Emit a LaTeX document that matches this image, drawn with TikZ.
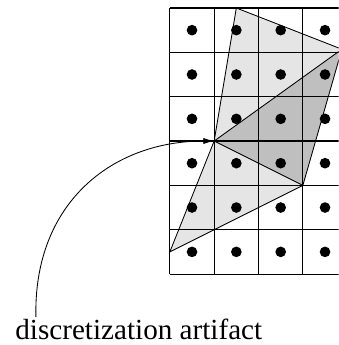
\documentclass[tikz,border=0pt]{standalone}
\usepackage{fontspec}
\setmainfont{Liberation Serif}
\usetikzlibrary{arrows.meta}

\begin{document}
\begin{tikzpicture}[
  lightface/.style={fill=gray!20},
  darkface/.style={fill=gray!50},
  edge/.style={line width=0.55pt, line join=round},
  cellline/.style={line width=0.7pt},
  pixdot/.style={fill=black}
]
\def\dotrad{0.12}

\useasboundingbox (-3.83,-1.6) rectangle (3.806,6.18);
\clip (-3.83,-1.6) rectangle (3.806,6.18);

% mesh vertices
\coordinate (A) at (1.5,6);
\coordinate (B) at (3.88,5.07);
\coordinate (C) at (1,3);
\coordinate (D) at (3,2);
\coordinate (E) at (0,0.5);

\fill[lightface] (A) -- (B) -- (C) -- cycle;
\fill[lightface] (C) -- (D) -- (E) -- cycle;
\fill[darkface] (C) -- (B) -- (D) -- cycle;

% pixel grid with sample points
\draw[cellline] (0,0) grid (4,6);
\foreach \i in {0,...,3}
  \foreach \j in {0,...,5}
    \fill[pixdot] (\i+0.5,\j+0.5) circle (\dotrad);

\draw[edge] (A) -- (B) -- (D) -- (E) -- (C) -- cycle;
\draw[edge] (C) -- (B);
\draw[edge] (C) -- (D);

\node[anchor=base west, inner sep=0pt, font=\fontsize{18.7}{22}\selectfont] (lbl) at (-3.49,-1.47) {discretization artifact};
\coordinate (tail) at (-3.02,-0.97);
\draw[edge, -{Latex[length=7pt, width=4pt]}] (tail) .. controls (-3.08,1.6) and (-1.3,3.0) .. (C);
\end{tikzpicture}
\end{document}
